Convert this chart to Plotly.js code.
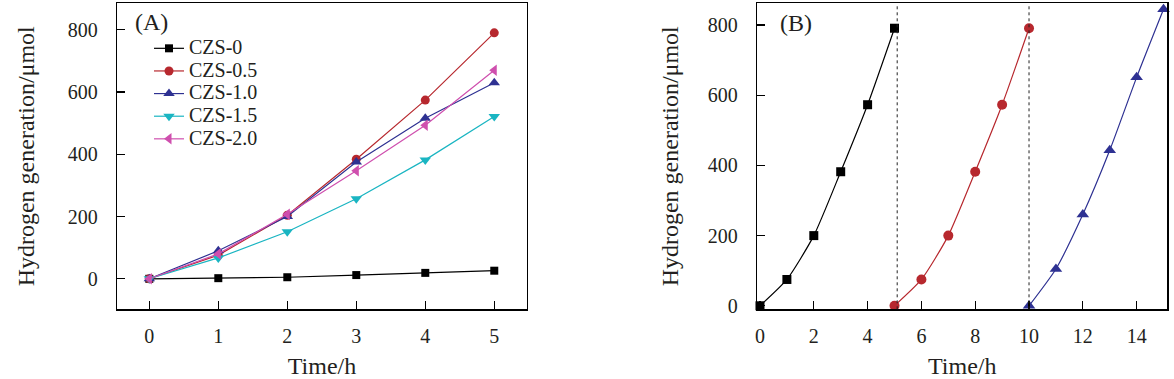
<!DOCTYPE html>
<html><head><meta charset="utf-8">
<script src="https://cdn.plot.ly/plotly-3.0.1.min.js"></script>
<style>html,body{margin:0;padding:0;background:#fff}#chart{width:1174px;height:379px}</style>
</head><body><div id="chart"></div>
<script>
// ---------- data (panel A) ----------
const timeA = [0, 1, 2, 3, 4, 5];
const seriesNames = ['CZS-0', 'CZS-0.5', 'CZS-1.0', 'CZS-1.5', 'CZS-2.0'];
const czs0  = [0, 2, 5, 12, 19, 26];
const czs05 = [0, 76, 204, 384, 574, 790];
const czs10 = [0, 90, 200, 375, 516, 630];
const czs15 = [0, 67, 151, 257, 382, 521];
const czs20 = [0, 80, 207, 347, 493, 670];
// ---------- data (panel B: cycling) ----------
const cycle1Time = [0, 1, 2, 3, 4, 5];
const cycle1 = [0, 75, 200, 382, 573, 791];
const cycle2Time = [5, 6, 7, 8, 9, 10];
const cycle2 = [0, 75, 200, 382, 573, 791];
const cycle3Time = [10, 11, 12, 13, 14, 15];
const cycle3 = [0, 105, 260, 443, 651, 845];
const cycleBreaks = [5.1, 10];
// ---------- tick labels ----------
const ticksAx = [0, 1, 2, 3, 4, 5];
const ticksY = [0, 200, 400, 600, 800];
const ticksBx = [0, 2, 4, 6, 8, 10, 12, 14];

// ---------- styles ----------
const W = 1174, H = 379;
const FONT = "'Liberation Serif', 'Times New Roman', Times, serif";
const TXT = '#231f20';
const colors = ['#000000', '#b7282e', '#2e3192', '#1ab5c2', '#cf4fae'];
const symbols = ['square', 'circle', 'triangle-up', 'triangle-down', 'triangle-left'];
const markerSizes = [8, 9, 10, 10, 10];
const seriesA = [czs0, czs05, czs10, czs15, czs20];
const legendFont = 15.1;          // sets legend row pitch
const legendTextSize = 20;        // visible size of legend labels

const traces = [];
seriesA.forEach((ys, i) => {
  traces.push({
    type: 'scatter', mode: 'lines+markers', x: timeA, y: ys,
    name: '<span style="font-size:' + legendTextSize + 'px">' + seriesNames[i] + '</span>',
    xaxis: 'x', yaxis: 'y', cliponaxis: false,
    line: {color: colors[i], width: 1.2},
    marker: {symbol: symbols[i], size: markerSizes[i], color: colors[i]},
    showlegend: true
  });
});
const cyc = [[cycle1Time, cycle1], [cycle2Time, cycle2], [cycle3Time, cycle3]];
cyc.forEach((c, i) => {
  traces.push({
    type: 'scatter', mode: 'lines+markers', x: c[0], y: c[1],
    name: 'Cycle ' + (i + 1),
    xaxis: 'x2', yaxis: 'y2', cliponaxis: false, showlegend: false,
    line: {color: colors[i], width: 1.2, shape: 'spline', smoothing: 0.6},
    marker: {symbol: symbols[i], size: markerSizes[i] + 1, color: colors[i]}
  });
});

const px = v => v / W, py = v => (H - v) / H;
const axCommon = {
  showline: true, mirror: true, linecolor: '#000', linewidth: 1.5,
  ticks: 'inside', ticklen: 8, tickwidth: 1.3, tickcolor: '#000',
  showgrid: false, zeroline: false,
  tickfont: {family: FONT, size: 20, color: TXT}
};
const annotations = [
  {text: '(A)', xref: 'paper', yref: 'paper', x: px(151), y: py(22), xanchor: 'center', yanchor: 'middle', showarrow: false, font: {family: FONT, size: 24, color: TXT}},
  {text: '(B)', xref: 'paper', yref: 'paper', x: px(796), y: py(23), xanchor: 'center', yanchor: 'middle', showarrow: false, font: {family: FONT, size: 24, color: TXT}}
];
const shapes = cycleBreaks.map(b => ({
  type: 'line', xref: 'x2', yref: 'y2 domain', x0: b, x1: b, y0: 0, y1: 1,
  line: {color: '#222', width: 1, dash: 'dot'}
}));

const layout = {
  width: W, height: H, margin: {l: 0, r: 0, t: 0, b: 0},
  paper_bgcolor: '#fff', plot_bgcolor: '#fff',
  font: {family: FONT, color: TXT},
  showlegend: true,
  legend: {x: px(149), y: py(32), xanchor: 'left', yanchor: 'top',
    bgcolor: 'rgba(0,0,0,0)', borderwidth: 0, font: {family: FONT, size: legendFont, color: TXT}},
  xaxis: Object.assign({}, axCommon, {domain: [px(117.3), px(526.7)], range: [-0.464, 5.47], anchor: 'y',
    tickvals: ticksAx, ticklabelstandoff: 8,
    title: {text: 'Time/h', font: {family: FONT, size: 24, color: TXT}, standoff: 12}}),
  yaxis: Object.assign({}, axCommon, {domain: [py(309.3), py(3.3)], range: [-98, 885], anchor: 'x',
    tickvals: ticksY, ticklabelstandoff: 14,
    title: {text: 'Hydrogen generation/μmol', font: {family: FONT, size: 24, color: TXT}, standoff: 26}}),
  xaxis2: Object.assign({}, axCommon, {domain: [px(757.3), px(1167.3)], range: [-0.1, 15.14], anchor: 'y2',
    tickvals: ticksBx, ticklabelstandoff: 8,
    title: {text: 'Time/h', font: {family: FONT, size: 24, color: TXT}, standoff: 12}}),
  yaxis2: Object.assign({}, axCommon, {domain: [py(309.3), py(3.3)], range: [-10, 862], anchor: 'x2',
    tickvals: ticksY, ticklabelstandoff: 14,
    title: {text: 'Hydrogen generation/μmol', font: {family: FONT, size: 24, color: TXT}, standoff: 22}}),
  annotations: annotations,
  shapes: shapes
};
Plotly.newPlot('chart', traces, layout, {staticPlot: true, displayModeBar: false});
</script>
</body></html>
